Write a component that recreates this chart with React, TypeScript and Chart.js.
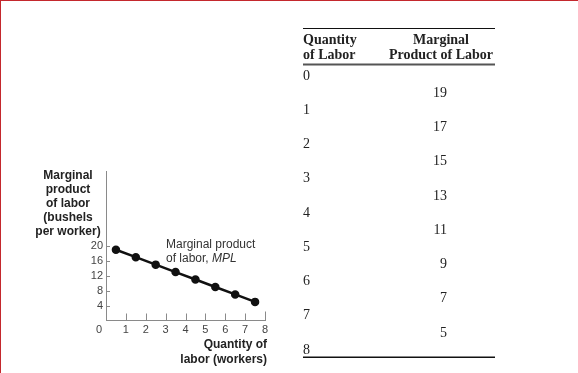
import React, { useEffect, useRef } from "react";
import { Chart, registerables } from "chart.js";

Chart.register(...registerables);

// ---- data ----
const workerMidpoints = [0.5, 1.5, 2.5, 3.5, 4.5, 5.5, 6.5, 7.5];
const mplValues = [19, 17, 15, 13, 11, 9, 7, 5];
const xTickValues = [1, 2, 3, 4, 5, 6, 7, 8];
const yTickValues = [4, 8, 12, 16, 20];
const laborQuantities = [0, 1, 2, 3, 4, 5, 6, 7, 8];
const tableMpl = [19, 17, 15, 13, 11, 9, 7, 5];
const yTitleLines = ["Marginal", "product", "of labor", "(bushels", "per worker)"];
const xTitleLines = ["Quantity of", "labor (workers)"];
const curveLabelLines = ["Marginal product", "of labor, "];
const curveLabelItalic = "MPL";
const tableHeadLeft = ["Quantity", "of Labor"];
const tableHeadRight = ["Marginal", "Product of Labor"];

const SANS = '"Liberation Sans", Arial, Helvetica, sans-serif';
const SERIF = '"Liberation Serif", "Times New Roman", serif';

const decorPlugin = {
  id: "decor",
  afterDraw(chart: any) {
    const ctx = chart.ctx as CanvasRenderingContext2D;
    const xs = chart.scales.x;
    const ys = chart.scales.y;
    const area = chart.chartArea;
    ctx.save();

    // tick marks (inside)
    ctx.strokeStyle = "#8a8a8a";
    ctx.lineWidth = 1;
    for (const v of yTickValues) {
      const y = Math.round(ys.getPixelForValue(v)) + 0.5;
      ctx.beginPath();
      ctx.moveTo(area.left, y);
      ctx.lineTo(area.left + 4, y);
      ctx.stroke();
    }
    for (const v of xTickValues) {
      const x = Math.round(xs.getPixelForValue(v)) + 0.5;
      const len = v === 8 ? 9 : 7;
      ctx.beginPath();
      ctx.moveTo(x, area.bottom);
      ctx.lineTo(x, area.bottom - len);
      ctx.stroke();
    }

    // origin label
    ctx.fillStyle = "#444";
    ctx.font = `11px ${SANS}`;
    ctx.textAlign = "center";
    ctx.textBaseline = "middle";
    ctx.fillText("0", xs.getPixelForValue(0) - 7, area.bottom + 9);

    // y title
    ctx.fillStyle = "#222";
    ctx.font = `bold 12px ${SANS}`;
    ctx.textAlign = "center";
    yTitleLines.forEach((t, i) => ctx.fillText(t, 68, 176 + i * 13.8));

    // x title
    ctx.textAlign = "right";
    xTitleLines.forEach((t, i) => ctx.fillText(t, 267, 345 + i * 15));

    // curve label
    ctx.fillStyle = "#333";
    ctx.font = `12px ${SANS}`;
    ctx.textAlign = "left";
    ctx.fillText(curveLabelLines[0], 166, 245);
    ctx.fillText(curveLabelLines[1], 166, 259);
    const w = ctx.measureText(curveLabelLines[1]).width;
    ctx.font = `italic 12px ${SANS}`;
    ctx.fillText(curveLabelItalic, 166 + w, 259);

    // table
    ctx.fillStyle = "#111";
    ctx.fillRect(303, 28, 192, 1);
    ctx.fillStyle = "#555";
    ctx.fillRect(303, 63.5, 192, 2);
    ctx.fillStyle = "#111";
    ctx.fillRect(303, 356.5, 192, 1.5);

    ctx.font = `bold 14px ${SERIF}`;
    ctx.fillStyle = "#222";
    ctx.textAlign = "left";
    tableHeadLeft.forEach((t, i) => ctx.fillText(t, 303, 40 + i * 15));
    ctx.textAlign = "center";
    tableHeadRight.forEach((t, i) => ctx.fillText(t, 441, 40 + i * 15));

    ctx.font = `14px ${SERIF}`;
    ctx.fillStyle = "#222";
    const rowStart = 76;
    const rowStep = 34.25;
    ctx.textAlign = "left";
    laborQuantities.forEach((q, i) => ctx.fillText(String(q), 303, rowStart + i * rowStep));
    ctx.textAlign = "right";
    tableMpl.forEach((m, i) => ctx.fillText(String(m), 447, rowStart + (i + 0.5) * rowStep));

    // red frame
    ctx.fillStyle = "#c4282d";
    ctx.fillRect(0, 0, chart.width, 1);
    ctx.fillRect(0, 0, 1, chart.height);

    ctx.restore();
  },
};

export default function App() {
  const ref = useRef<HTMLCanvasElement | null>(null);

  useEffect(() => {
    if (!ref.current) return;
    const chart = new Chart(ref.current, {
      type: "scatter",
      data: {
        datasets: [
          {
            data: workerMidpoints.map((x, i) => ({ x, y: mplValues[i] })),
            showLine: true,
            borderColor: "#111",
            backgroundColor: "#111",
            borderWidth: 2.5,
            pointRadius: 3,
            pointBackgroundColor: "#111",
            pointBorderColor: "#111",
          },
        ],
      },
      options: {
        responsive: false,
        animation: false,
        devicePixelRatio: 1,
        layout: { padding: { left: 0, top: 171.5, right: 313, bottom: 22.5 } },
        plugins: { legend: { display: false }, tooltip: { enabled: false } },
        scales: {
          x: {
            type: "linear",
            min: 0,
            max: 8,
            grid: { display: false, drawTicks: false },
            border: { display: true, color: "#8a8a8a", width: 1 },
            afterBuildTicks: (s: any) => {
              s.ticks = xTickValues.map((v) => ({ value: v }));
            },
            afterFit: (s: any) => {
              s.height = 30;
            },
            ticks: {
              color: "#444",
              font: { family: SANS, size: 11 },
              padding: 3,
              maxRotation: 0,
              autoSkip: false,
            },
          },
          y: {
            type: "linear",
            min: 0,
            max: 40,
            grid: { display: false, drawTicks: false },
            border: { display: true, color: "#8a8a8a", width: 1 },
            afterBuildTicks: (s: any) => {
              s.ticks = yTickValues.map((v) => ({ value: v }));
            },
            afterFit: (s: any) => {
              s.width = 106;
            },
            ticks: {
              color: "#444",
              font: { family: SANS, size: 11 },
              padding: 3,
              autoSkip: false,
            },
          },
        },
      },
      plugins: [decorPlugin],
    } as any);
    return () => chart.destroy();
  }, []);

  return (
    <div style={{ position: "absolute", left: 0, top: 0, width: 578, height: 373, background: "#fff" }}>
      <canvas ref={ref} width={578} height={373} style={{ display: "block" }} />
    </div>
  );
}
